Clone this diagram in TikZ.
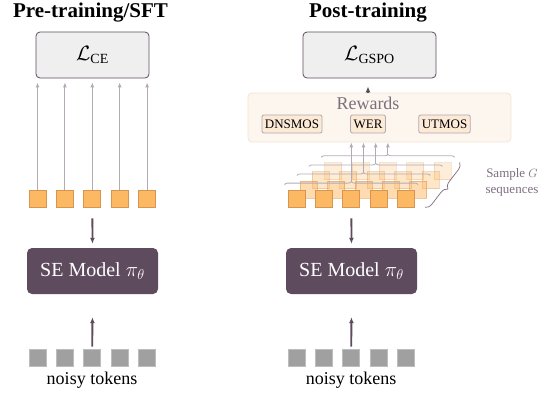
\documentclass[tikz,border=0pt]{standalone}
\usepackage{amsmath}
\usepackage{fontspec}
\setmainfont{Liberation Serif}
\usetikzlibrary{arrows.meta,decorations.pathreplacing}

\definecolor{plum}{RGB}{94,75,94}
\definecolor{lossgray}{RGB}{239,239,240}
\definecolor{tokorange}{RGB}{253,184,99}
\definecolor{tokedge}{RGB}{214,150,80}
\definecolor{tokgray}{RGB}{160,160,160}
\definecolor{arrowgray}{RGB}{180,170,182}
\definecolor{rewfill}{RGB}{253,246,238}
\definecolor{rewedge}{RGB}{243,228,212}
\definecolor{metricfill}{RGB}{252,233,214}
\definecolor{textplum}{RGB}{125,110,127}

\begin{document}
\begin{tikzpicture}[x=1pt, y=-1pt,
	title/.style={font=\fontsize{21}{25}\selectfont\bfseries},
	lossbox/.style={draw=plum, fill=lossgray, line width=0.8pt, rounded corners=4pt, minimum height=46pt, font=\fontsize{20}{24}\selectfont},
	model/.style={fill=plum, text=white, rounded corners=5pt, minimum width=131pt, minimum height=46pt, font=\fontsize{20}{24}\selectfont},
	outtok/.style={fill=tokorange, draw=tokedge, line width=0.8pt, minimum size=17pt, inner sep=0pt},
	intok/.style={fill=tokgray, draw=tokgray!70, line width=0.8pt, minimum size=17pt, inner sep=0pt},
	caption/.style={font=\fontsize{18}{22}\selectfont},
	rewbox/.style={fill=rewfill, draw=rewedge, line width=0.8pt, rounded corners=4pt},
	metric/.style={fill=metricfill, draw=textplum!60, line width=0.8pt, rounded corners=2pt, inner xsep=3pt, minimum height=18pt, font=\fontsize{13}{15}\selectfont},
	darrow/.style={draw=plum, line width=1.8pt, -{Latex[length=6pt,width=5pt]}},
	thinarrow/.style={draw=arrowgray, line width=1pt, -{Latex[length=5pt,width=4pt]}},
	rowbrace/.style={draw=arrowgray, line width=0.8pt, decorate, decoration={brace, amplitude=3pt}},
	bigbrace/.style={draw=textplum, line width=0.7pt, decorate, decoration={brace, amplitude=7pt}},
	sidetext/.style={text=textplum, align=center, font=\fontsize{13}{16}\selectfont}]
	\useasboundingbox (0,0) rectangle (551,392);

	% pre-training / SFT
	\node[title] (titleL) at (90.5,13) {Pre-training/SFT};
	\node[lossbox, minimum width=113pt] (ce) at (92.5,55) {$\mathcal{L}_{\text{CE}}$};
	\foreach \i in {0,...,4} {
		\node[outtok] (ol\i) at (37.5+27.4*\i,198.5) {};
		\node[intok] (gl\i) at (37.5+27.4*\i,357.5) {};
		\draw[thinarrow, shorten >=4pt] (ol\i.north) -- (ol\i |- ce.south);
	}
	\node[model] (modL) at (92.5,271) {SE Model $\pi_\theta$};
	\node[caption] (noisyL) at (92,380) {noisy tokens};
	\draw[darrow, shorten <=11pt, shorten >=4pt] (ol2.south) -- (modL.north);
	\draw[darrow, shorten <=2pt, shorten >=23pt] (gl2.north) -- (modL.south);

	% post-training
	\node[title] (titleR) at (368,13) {Post-training};
	\node[lossbox, minimum width=133pt] (gspo) at (369.5,55) {$\mathcal{L}_{\text{GSPO}}$};
	\node[rewbox, minimum width=263pt, minimum height=49pt] (rew) at (379.5,117.5) {};
	\node[text=textplum, caption] (rewtxt) at (368,103) {Rewards};
	\node[metric] (dnsmos) at (292,124) {DNSMOS};
	\node[metric] (wer) at (368,124) {WER};
	\node[metric] (utmos) at (444.5,124) {UTMOS};
	\draw[darrow, shorten >=8pt] (rewtxt.north) -- (rewtxt |- gspo.south);

	% G sampled sequences, back to front
	\foreach \j/\op in {3/0.25,2/0.35,1/0.5,0/1} {
		\foreach \i in {0,...,4}
			\node[outtok, opacity=\op] (t\j\i) at (296.5+27.4*\i+12.2*\j,198.5-9.1*\j) {};
		\draw[rowbrace] ([xshift=-3pt,yshift=5pt]t\j0.north west) -- ([xshift=3pt,yshift=5pt]t\j4.north east);
	}
	\foreach \j in {0,...,3}
		\draw[thinarrow] ([yshift=8pt]t\j2.north) -- (t\j2 |- rew.south);
	\coordinate (gtop) at ([xshift=8pt]t34.north east);
	\coordinate (gbot) at ([xshift=10pt]t04.south east);
	\draw[bigbrace] (gtop) -- (gbot);
	\node[sidetext] (samp) at (512,182) {Sample $G$\\sequences};

	\foreach \i in {0,...,4}
		\node[intok] (gr\i) at (296.5+27.4*\i,357.5) {};
	\node[model] (modR) at (351.5,271) {SE Model $\pi_\theta$};
	\node[caption] (noisyR) at (351,380) {noisy tokens};
	\draw[darrow, shorten <=11pt, shorten >=4pt] (t02.south) -- (modR.north);
	\draw[darrow, shorten <=2pt, shorten >=23pt] (gr2.north) -- (modR.south);
\end{tikzpicture}
\end{document}
